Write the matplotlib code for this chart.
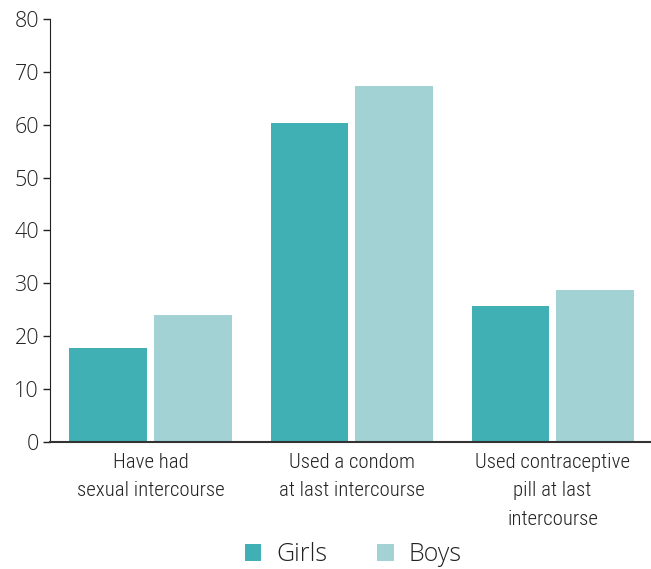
import numpy as np
import matplotlib.pyplot as plt

categories = ['Have had\nsexual intercourse',
              'Used a condom\nat last intercourse',
              'Used contraceptive\npill at last\nintercourse']
girls = [17.8, 60.3, 25.7]
boys = [24.0, 67.3, 28.7]

plt.rcParams['font.family'] = ['Open Sans', 'DejaVu Sans']
plt.rcParams['font.weight'] = 'light'

fig = plt.figure(figsize=(6.51, 5.69), dpi=100)
ax = fig.add_axes([50 / 651, 1 - 442 / 569, 1 - 50 / 651, (442 - 19) / 569])

x = np.arange(len(categories))
w = 0.388
ax.bar(x - 0.209, girls, w, color='#40b0b4', label='Girls')
ax.bar(x + 0.209, boys, w, color='#a3d2d4', label='Boys')

ax.set_xlim(-0.5, 2.49)
ax.set_ylim(0, 80)
ax.set_yticks(range(0, 81, 10))
ax.tick_params(axis='y', labelsize=15.5, colors='#222222', length=5, width=1, pad=3)
ax.tick_params(axis='x', length=0, pad=8)
ax.set_xticks(x)
ax.set_xticklabels(categories, fontsize=15, family=['Roboto Condensed', 'DejaVu Sans'],
                   fontweight='light', color='#222222', linespacing=1.62)
for s in ['top', 'right']:
    ax.spines[s].set_visible(False)
ax.spines['left'].set_color('#222222')
ax.spines['bottom'].set_color('#333333')
ax.spines['bottom'].set_linewidth(1.5)

fig.legend(loc='lower center', bbox_to_anchor=(0.543, -0.036), ncol=2, frameon=False,
           prop={'size': 18, 'weight': 'light'}, handlelength=0.65, handleheight=0.65,
           columnspacing=2.0, handletextpad=0.6, labelcolor='#222222')

fig.savefig('out.png', dpi=100)
